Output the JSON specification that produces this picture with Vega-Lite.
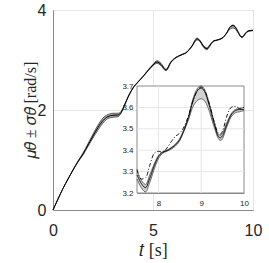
{
  "$schema": "https://vega.github.io/schema/vega-lite/v6.json",
  "width": 200,
  "height": 200,
  "autosize": {"type": "none"},
  "padding": {"left": 53, "top": 10, "right": 16, "bottom": 53},
  "background": "white",
  "config": {
    "view": {"stroke": "#8a8a8a", "strokeWidth": 1},
    "axis": {"domainColor": "#8a8a8a", "ticks": false, "gridColor": "#e6e6e6", "labelColor": "#262626", "titleColor": "#262626", "labelFont": "Liberation Sans", "titleFont": "Liberation Serif", "titleFontWeight": "normal", "labelFlush": false, "labelOverlap": false}
  },
  "datasets": {
    "traj": [
      {"t": 0, "mean": 0, "lo": 0, "hi": 0},
      {"t": 0.25, "mean": 0.22, "lo": 0.22, "hi": 0.22},
      {"t": 0.5, "mean": 0.43, "lo": 0.43, "hi": 0.43},
      {"t": 0.75, "mean": 0.62, "lo": 0.62, "hi": 0.62},
      {"t": 1, "mean": 0.8, "lo": 0.795, "hi": 0.805},
      {"t": 1.25, "mean": 0.97, "lo": 0.96, "hi": 0.98},
      {"t": 1.5, "mean": 1.12, "lo": 1.1, "hi": 1.14},
      {"t": 1.75, "mean": 1.3, "lo": 1.27, "hi": 1.33},
      {"t": 2, "mean": 1.48, "lo": 1.44, "hi": 1.52},
      {"t": 2.25, "mean": 1.65, "lo": 1.6, "hi": 1.7},
      {"t": 2.5, "mean": 1.79, "lo": 1.74, "hi": 1.84},
      {"t": 2.75, "mean": 1.87, "lo": 1.83, "hi": 1.91},
      {"t": 3, "mean": 1.895, "lo": 1.855, "hi": 1.935},
      {"t": 3.25, "mean": 1.9, "lo": 1.865, "hi": 1.935},
      {"t": 3.4, "mean": 1.95, "lo": 1.93, "hi": 1.97},
      {"t": 3.6, "mean": 2.12, "lo": 2.11, "hi": 2.13},
      {"t": 3.8, "mean": 2.3, "lo": 2.295, "hi": 2.305},
      {"t": 4, "mean": 2.44, "lo": 2.435, "hi": 2.445},
      {"t": 4.25, "mean": 2.56, "lo": 2.555, "hi": 2.565},
      {"t": 4.5, "mean": 2.67, "lo": 2.665, "hi": 2.675},
      {"t": 4.75, "mean": 2.79, "lo": 2.78, "hi": 2.8},
      {"t": 5, "mean": 2.9, "lo": 2.885, "hi": 2.915},
      {"t": 5.2, "mean": 2.96, "lo": 2.935, "hi": 2.985},
      {"t": 5.4, "mean": 2.91, "lo": 2.885, "hi": 2.935},
      {"t": 5.65, "mean": 2.8, "lo": 2.785, "hi": 2.815},
      {"t": 5.9, "mean": 2.96, "lo": 2.95, "hi": 2.97},
      {"t": 6.15, "mean": 3.05, "lo": 3.045, "hi": 3.055},
      {"t": 6.4, "mean": 3.1, "lo": 3.095, "hi": 3.105},
      {"t": 6.7, "mean": 3.16, "lo": 3.155, "hi": 3.165},
      {"t": 6.95, "mean": 3.28, "lo": 3.27, "hi": 3.29},
      {"t": 7.2, "mean": 3.42, "lo": 3.4, "hi": 3.44},
      {"t": 7.35, "mean": 3.38, "lo": 3.365, "hi": 3.395},
      {"t": 7.5, "mean": 3.285, "hi": 3.3, "lo": 3.265, "ref": 3.31},
      {"t": 7.6, "mean": 3.245, "hi": 3.26, "lo": 3.225, "ref": 3.265},
      {"t": 7.7, "mean": 3.225, "hi": 3.24, "lo": 3.205, "ref": 3.27},
      {"t": 7.8, "mean": 3.27, "hi": 3.285, "lo": 3.25, "ref": 3.33},
      {"t": 7.9, "mean": 3.325, "hi": 3.335, "lo": 3.31, "ref": 3.385},
      {"t": 8, "mean": 3.37, "hi": 3.375, "lo": 3.36, "ref": 3.395},
      {"t": 8.1, "mean": 3.39, "hi": 3.393, "lo": 3.385, "ref": 3.39},
      {"t": 8.2, "mean": 3.398, "hi": 3.4, "lo": 3.395, "ref": 3.41},
      {"t": 8.3, "mean": 3.41, "hi": 3.413, "lo": 3.405, "ref": 3.44},
      {"t": 8.4, "mean": 3.425, "hi": 3.43, "lo": 3.42, "ref": 3.465},
      {"t": 8.5, "mean": 3.45, "hi": 3.455, "lo": 3.445, "ref": 3.48},
      {"t": 8.6, "mean": 3.495, "hi": 3.5, "lo": 3.49, "ref": 3.51},
      {"t": 8.7, "mean": 3.55, "hi": 3.555, "lo": 3.54, "ref": 3.56},
      {"t": 8.8, "mean": 3.625, "hi": 3.635, "lo": 3.6, "ref": 3.625},
      {"t": 8.9, "mean": 3.675, "hi": 3.685, "lo": 3.63, "ref": 3.675},
      {"t": 9, "mean": 3.69, "hi": 3.7, "lo": 3.64, "ref": 3.695},
      {"t": 9.1, "mean": 3.665, "hi": 3.675, "lo": 3.625, "ref": 3.67},
      {"t": 9.2, "mean": 3.6, "hi": 3.61, "lo": 3.575, "ref": 3.61},
      {"t": 9.3, "mean": 3.525, "hi": 3.535, "lo": 3.51, "ref": 3.535},
      {"t": 9.4, "mean": 3.465, "hi": 3.475, "lo": 3.455, "ref": 3.48},
      {"t": 9.45, "mean": 3.458, "hi": 3.47, "lo": 3.445, "ref": 3.475},
      {"t": 9.5, "mean": 3.468, "hi": 3.48, "lo": 3.455, "ref": 3.49},
      {"t": 9.6, "mean": 3.52, "hi": 3.53, "lo": 3.51, "ref": 3.56},
      {"t": 9.7, "mean": 3.565, "hi": 3.57, "lo": 3.555, "ref": 3.6},
      {"t": 9.8, "mean": 3.585, "hi": 3.59, "lo": 3.575, "ref": 3.605},
      {"t": 9.9, "mean": 3.59, "hi": 3.595, "lo": 3.58, "ref": 3.595},
      {"t": 10, "mean": 3.59, "hi": 3.6, "lo": 3.585, "ref": 3.6}
    ],
    "frame": [{"t0": 7.5, "t1": 10, "v0": 3.2, "v1": 3.7}],
    "igridx": [{"t0": 8, "v0": 3.2, "v1": 3.7}, {"t0": 9, "v0": 3.2, "v1": 3.7}],
    "igridy": [{"v0": 3.3, "t0": 7.5, "t1": 10}, {"v0": 3.4, "t0": 7.5, "t1": 10}, {"v0": 3.5, "t0": 7.5, "t1": 10}, {"v0": 3.6, "t0": 7.5, "t1": 10}]
  },
  "layer": [
    {
      "data": {"name": "traj"},
      "encoding": {
        "x": {"field": "t", "type": "quantitative", "scale": {"domain": [0, 10], "nice": false},
          "axis": {"values": [0, 5, 10], "grid": true, "labelFontSize": 16, "labelPadding": 12, "title": "𝑡 [s]", "titleFontSize": 18, "titlePadding": 3}}
      },
      "layer": [
        {"mark": {"type": "area", "interpolate": "monotone", "color": "#a8a8a8"},
          "encoding": {"y": {"field": "lo", "type": "quantitative", "scale": {"domain": [0, 4], "nice": false},
            "axis": {"values": [0, 2, 4], "grid": true, "labelFontSize": 16, "labelPadding": 7, "title": "𝜇𝜃̇ ± 𝜎𝜃̇ [rad/s]", "titleFontSize": 16, "titlePadding": -1}},
            "y2": {"field": "hi"}}},
        {"mark": {"type": "line", "interpolate": "monotone", "color": "#333", "strokeWidth": 0.7},
          "encoding": {"y": {"field": "lo", "type": "quantitative",
            "axis": {"values": [0, 2, 4], "grid": true, "labelFontSize": 16, "labelPadding": 7, "title": "𝜇𝜃̇ ± 𝜎𝜃̇ [rad/s]", "titleFontSize": 16, "titlePadding": -1}}}},
        {"mark": {"type": "line", "interpolate": "monotone", "color": "#333", "strokeWidth": 0.7},
          "encoding": {"y": {"field": "hi", "type": "quantitative",
            "axis": {"values": [0, 2, 4], "grid": true, "labelFontSize": 16, "labelPadding": 7, "title": "𝜇𝜃̇ ± 𝜎𝜃̇ [rad/s]", "titleFontSize": 16, "titlePadding": -1}}}},
        {"mark": {"type": "line", "interpolate": "monotone", "color": "#000", "strokeWidth": 1},
          "encoding": {"y": {"field": "mean", "type": "quantitative",
            "axis": {"values": [0, 2, 4], "grid": true, "labelFontSize": 16, "labelPadding": 7, "title": "𝜇𝜃̇ ± 𝜎𝜃̇ [rad/s]", "titleFontSize": 16, "titlePadding": -1}}}}
      ]
    },
    {
      "layer": [
        {"data": {"name": "frame"},
          "mark": {"type": "rect", "fill": "white", "stroke": "#8a8a8a", "strokeWidth": 1},
          "encoding": {
            "x": {"field": "t0", "type": "quantitative", "scale": {"domain": [7.5, 10], "nice": false, "range": [84, 191]},
              "axis": {"orient": "bottom", "offset": -17, "values": [8, 9, 10], "format": "d", "grid": false, "labelFontSize": 8, "labelPadding": 6, "title": null}},
            "x2": {"field": "t1"},
            "y": {"field": "v0", "type": "quantitative", "scale": {"domain": [3.2, 3.7], "nice": false, "range": [183, 76]},
              "axis": {"orient": "left", "offset": -84, "values": [3.2, 3.3, 3.4, 3.5, 3.6, 3.7], "format": ".1f", "grid": false, "labelFontSize": 8, "labelPadding": 4, "title": null}},
            "y2": {"field": "v1"}
          }},
        {"data": {"name": "igridx"},
          "mark": {"type": "rule", "color": "#e6e6e6", "strokeWidth": 1},
          "encoding": {
            "x": {"field": "t0", "type": "quantitative",
              "axis": {"orient": "bottom", "offset": -17, "values": [8, 9, 10], "format": "d", "grid": false, "labelFontSize": 8, "labelPadding": 6, "title": null}},
            "y": {"field": "v0", "type": "quantitative",
              "axis": {"orient": "left", "offset": -84, "values": [3.2, 3.3, 3.4, 3.5, 3.6, 3.7], "format": ".1f", "grid": false, "labelFontSize": 8, "labelPadding": 4, "title": null}},
            "y2": {"field": "v1"}}},
        {"data": {"name": "igridy"},
          "mark": {"type": "rule", "color": "#e6e6e6", "strokeWidth": 1},
          "encoding": {
            "y": {"field": "v0", "type": "quantitative",
              "axis": {"orient": "left", "offset": -84, "values": [3.2, 3.3, 3.4, 3.5, 3.6, 3.7], "format": ".1f", "grid": false, "labelFontSize": 8, "labelPadding": 4, "title": null}},
            "x": {"field": "t0", "type": "quantitative",
              "axis": {"orient": "bottom", "offset": -17, "values": [8, 9, 10], "format": "d", "grid": false, "labelFontSize": 8, "labelPadding": 6, "title": null}},
            "x2": {"field": "t1"}}},
        {"data": {"name": "traj"},
          "transform": [{"filter": "datum.t >= 7.5"}],
          "mark": {"type": "area", "interpolate": "monotone", "color": "#d0d0d0"},
          "encoding": {
            "x": {"field": "t", "type": "quantitative",
              "axis": {"orient": "bottom", "offset": -17, "values": [8, 9, 10], "format": "d", "grid": false, "labelFontSize": 8, "labelPadding": 6, "title": null}},
            "y": {"field": "lo", "type": "quantitative",
              "axis": {"orient": "left", "offset": -84, "values": [3.2, 3.3, 3.4, 3.5, 3.6, 3.7], "format": ".1f", "grid": false, "labelFontSize": 8, "labelPadding": 4, "title": null}},
            "y2": {"field": "hi"}
          }},
        {"data": {"name": "traj"},
          "transform": [{"filter": "datum.t >= 7.5"}, {"fold": ["lo", "hi", "ref", "mean"], "as": ["s", "v"]}],
          "mark": {"type": "line", "interpolate": "monotone"},
          "encoding": {
            "x": {"field": "t", "type": "quantitative",
              "axis": {"orient": "bottom", "offset": -17, "values": [8, 9, 10], "format": "d", "grid": false, "labelFontSize": 8, "labelPadding": 6, "title": null}},
            "y": {"field": "v", "type": "quantitative",
              "axis": {"orient": "left", "offset": -84, "values": [3.2, 3.3, 3.4, 3.5, 3.6, 3.7], "format": ".1f", "grid": false, "labelFontSize": 8, "labelPadding": 4, "title": null}},
            "color": {"field": "s", "type": "nominal", "scale": {"domain": ["lo", "hi", "ref", "mean"], "range": ["#555", "#555", "#000", "#000"]}, "legend": null},
            "strokeWidth": {"field": "s", "type": "nominal", "scale": {"domain": ["lo", "hi", "ref", "mean"], "range": [0.9, 0.9, 0.8, 1.5]}, "legend": null},
            "strokeDash": {"field": "s", "type": "nominal", "scale": {"domain": ["lo", "hi", "ref", "mean"], "range": [[1, 0], [1, 0], [4, 2, 1, 2], [1, 0]]}, "legend": null},
            "order": {"field": "s", "sort": "descending"}
          }}
      ]
    }
  ],
  "resolve": {"scale": {"x": "independent", "y": "independent"}, "axis": {"x": "independent", "y": "independent"}}
}
